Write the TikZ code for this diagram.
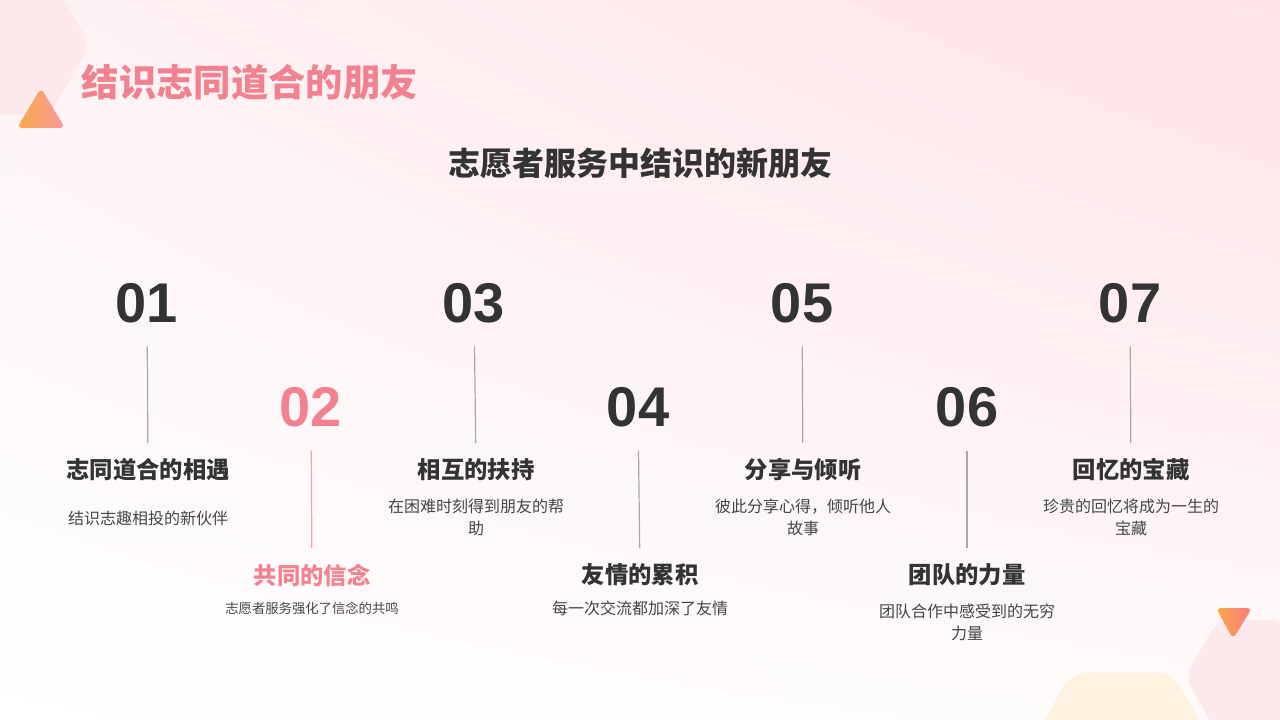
\documentclass[tikz,border=0pt]{standalone}
\usepackage{fontspec}
\setmainfont{Noto Sans CJK SC}
\newfontfamily\numfont{Liberation Sans}
\usetikzlibrary{positioning, shadings}
\definecolor{accentPink}{HTML}{F2828F}
\definecolor{linePink}{HTML}{F4A3AC}
\definecolor{textDark}{HTML}{333333}
\definecolor{descGrey}{HTML}{454545}
\definecolor{lineGrey}{HTML}{A8A8A8}
\definecolor{hexPink}{HTML}{FDE8EB}
\definecolor{hexCream}{HTML}{FEF3E0}
\definecolor{triOrange}{HTML}{FBA94A}
\definecolor{triPink}{HTML}{F79A9C}
\definecolor{triRed}{HTML}{F67B7E}
\definecolor{bgPink}{HTML}{FFE3E8}
\definecolor{bgSoft}{HTML}{FDF3F4}
\tikzset{
  num/.style={font=\numfont\fontsize{42}{42}\selectfont\bfseries, text=textDark},
  head/.style={font=\fontsize{17.5}{20}\selectfont\bfseries, text=textDark},
  desc/.style={font=\fontsize{12}{16.5}\selectfont, text=descGrey, align=center},
  stem/.style={draw=lineGrey, line width=0.9pt, shorten <=19*0.75pt, shorten >=11*0.75pt},
}

\begin{document}
\begin{tikzpicture}[x=0.75pt, y=-0.75pt]
\useasboundingbox (0,0) rectangle (1280,720);
\clip (0,0) rectangle (1280,720);
% background
\shade[upper left=bgSoft, upper right=bgPink, lower left=white, lower right=white!60!bgSoft]
  (0,0) rectangle (1280,720);
% corner shapes
\fill[hexPink, rounded corners=10pt] (90,45) -- ++(120:80) -- ++(180:80) -- ++(240:80)
  -- ++(300:80) -- ++(0:80) -- cycle;
\shade[left color=triOrange, right color=triPink, rounded corners=4pt]
  (17,128) -- (65,128) -- (41,88) -- cycle;
\fill[hexCream, rounded corners=12pt] (1222,759) -- ++(120:100) -- ++(180:100) -- ++(240:100)
  -- ++(300:100) -- ++(0:100) -- cycle;
\fill[hexPink, rounded corners=10pt] (1317,677) -- ++(120:66) -- ++(180:66) -- ++(240:66)
  -- ++(300:66) -- ++(0:66) -- cycle;
\shade[left color=triOrange, right color=triRed, rounded corners=4pt]
  (1216,608) -- (1252,608) -- (1233,639) -- cycle;

% titles
\node[anchor=west, text=accentPink, font=\fontsize{28}{30}\selectfont\bfseries] (title) at (77,82) {结识志同道合的朋友};
\node[text=textDark, font=\fontsize{24}{26}\selectfont\bfseries] (subtitle) at (640,163) {志愿者服务中结识的新朋友};

% 01
\node[num] (num1) at (147,303) {01};
\node[head] (head1) at (148,470) {志同道合的相遇};
\node[desc] (desc1) at (148,518) {结识志趣相投的新伙伴};
\draw[stem] (num1) -- (head1);
% 02
\node[num, text=accentPink] (num2) at (311,407) {02};
\node[head, text=accentPink] (head2) at (312,575) {共同的信念};
\node[desc, font=\fontsize{10}{14}\selectfont] (desc2) at (312,608) {志愿者服务强化了信念的共鸣};
\draw[stem, draw=linePink] (num2) -- (head2);
% 03
\node[num] (num3) at (474,303) {03};
\node[head] (head3) at (476,470) {相互的扶持};
\node[desc] (desc3) at (476,517) {在困难时刻得到朋友的帮\\助};
\draw[stem] (num3) -- (head3);
% 04
\node[num] (num4) at (638,407) {04};
\node[head] (head4) at (640,575) {友情的累积};
\node[desc] (desc4) at (640,608) {每一次交流都加深了友情};
\draw[stem] (num4) -- (head4);
% 05
\node[num] (num5) at (802,303) {05};
\node[head] (head5) at (803,470) {分享与倾听};
\node[desc] (desc5) at (803,517) {彼此分享心得，倾听他人\\故事};
\draw[stem] (num5) -- (head5);
% 06
\node[num] (num6) at (967,407) {06};
\node[head] (head6) at (967,575) {团队的力量};
\node[desc] (desc6) at (967,622) {团队合作中感受到的无穷\\力量};
\draw[stem] (num6) -- (head6);
% 07
\node[num] (num7) at (1130,303) {07};
\node[head] (head7) at (1131,470) {回忆的宝藏};
\node[desc] (desc7) at (1131,517) {珍贵的回忆将成为一生的\\宝藏};
\draw[stem] (num7) -- (head7);
\end{tikzpicture}
\end{document}
